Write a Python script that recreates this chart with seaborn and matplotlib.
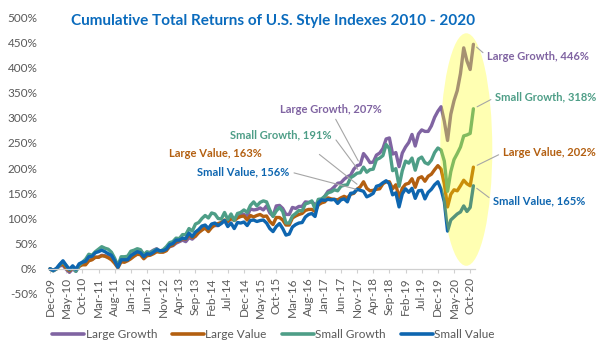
import matplotlib
matplotlib.use("Agg")
import matplotlib.pyplot as plt
import seaborn as sns
import pandas as pd
import numpy as np
from matplotlib.patches import Ellipse

# ---------------- data (cumulative total return, %, monthly Dec-09 .. Nov-20) -------------
large_growth = [0,
    -4, 0, 6, 7, -1, -7, 0, -5, 5, 10, 10, 17,
    19, 23, 23, 27, 26, 24, 23, 15, 8, 19, 19, 20,
    25, 32, 37, 37, 28, 32, 33, 37, 40, 35, 37, 38,
    44, 46, 51, 54, 57, 54, 62, 59, 65, 73, 78, 84,
    79, 88, 86, 86, 92, 96, 93, 102, 99, 104, 110, 108,
    105, 119, 117, 118, 121, 117, 125, 111, 105, 125, 126, 120,
    108, 108, 122, 120, 124, 124, 133, 132, 133, 128, 130, 136,
    144, 154, 157, 163, 170, 171, 178, 183, 186, 198, 205, 207,
    229, 221, 211, 212, 226, 230, 239, 258, 260, 228, 231, 203,
    230, 242, 251, 267, 244, 268, 276, 273, 273, 284, 301, 313,
    322, 293, 255, 307, 334, 354, 388, 439, 413, 396, 446]
large_value = [0,
    -3, 0, 7, 10, 1, -4, 2, -2, 5, 8, 8, 16,
    18, 23, 23, 26, 25, 22, 18, 11, 2, 14, 13, 16,
    20, 25, 29, 28, 20, 26, 27, 30, 34, 33, 33, 36,
    45, 47, 54, 56, 60, 59, 68, 62, 65, 72, 77, 81,
    74, 82, 87, 90, 92, 97, 94, 100, 96, 101, 104, 105,
    97, 106, 103, 106, 108, 104, 105, 94, 88, 102, 102, 97,
    87, 87, 101, 105, 108, 110, 116, 118, 118, 114, 127, 131,
    133, 141, 139, 138, 137, 141, 144, 141, 148, 150, 158, 163,
    173, 160, 155, 156, 158, 159, 169, 173, 173, 159, 167, 141,
    160, 168, 170, 179, 162, 180, 183, 174, 184, 188, 197, 205,
    198, 169, 123, 148, 157, 155, 165, 176, 169, 165, 202]
small_growth = [0,
    -4, 0, 8, 14, 6, -2, 4, -5, 7, 13, 19, 29,
    27, 34, 39, 44, 41, 39, 33, 21, 6, 24, 24, 25,
    35, 37, 40, 38, 28, 34, 31, 36, 39, 35, 38, 44,
    52, 54, 61, 60, 68, 68, 80, 75, 89, 92, 100, 106,
    101, 111, 109, 100, 99, 112, 98, 109, 96, 110, 112, 117,
    112, 126, 133, 125, 132, 135, 133, 117, 104, 115, 122, 114,
    91, 91, 105, 110, 116, 115, 129, 131, 135, 119, 138, 139,
    144, 151, 153, 157, 155, 164, 166, 167, 181, 185, 190, 191,
    202, 192, 197, 198, 217, 220, 225, 247, 239, 195, 199, 164,
    195, 214, 210, 220, 196, 218, 222, 211, 208, 216, 231, 240,
    236, 214, 154, 193, 217, 229, 242, 264, 266, 269, 318]
small_value = [0,
    -3, 1, 9, 16, 7, -1, 6, -1, 10, 13, 15, 24,
    25, 32, 34, 37, 34, 30, 27, 16, 3, 18, 18, 18,
    26, 30, 34, 32, 24, 30, 29, 33, 38, 36, 36, 39,
    48, 50, 57, 57, 61, 60, 71, 64, 73, 78, 85, 87,
    80, 89, 91, 86, 90, 96, 84, 91, 80, 92, 91, 93,
    86, 96, 97, 94, 96, 97, 91, 80, 74, 84, 90, 80,
    67, 69, 83, 88, 91, 92, 103, 108, 110, 104, 131, 137,
    136, 138, 137, 138, 130, 137, 139, 133, 150, 151, 158, 156,
    154, 143, 146, 150, 164, 166, 171, 175, 169, 147, 151, 123,
    149, 159, 152, 160, 140, 155, 156, 139, 152, 158, 167, 173,
    158, 133, 75, 97, 103, 109, 113, 125, 114, 122, 165]

series_names = ["Large Growth", "Large Value", "Small Growth", "Small Value"]
tick_labels = ["Dec-09", "May-10", "Oct-10", "Mar-11", "Aug-11", "Jan-12", "Jun-12",
               "Nov-12", "Apr-13", "Sep-13", "Feb-14", "Jul-14", "Dec-14", "May-15",
               "Oct-15", "Mar-16", "Aug-16", "Jan-17", "Jun-17", "Nov-17", "Apr-18",
               "Sep-18", "Feb-19", "Jul-19", "Dec-19", "May-20", "Oct-20"]
y_ticks = [-50, 0, 50, 100, 150, 200, 250, 300, 350, 400, 450, 500]

# --------------- styling ----------------
colors = {"Large Growth": "#8064A2", "Large Value": "#B35F10",
          "Small Growth": "#4E9E87", "Small Value": "#0E66B0"}
gray_text = "#595959"
title_color = "#0A6BBD"

sns.set_theme(style="white")
plt.rcParams["font.family"] = ["Lato", "DejaVu Sans"]

all_series = [large_growth, large_value, small_growth, small_value]
frames = []
for name, vals in zip(series_names, all_series):
    frames.append(pd.DataFrame({"month": np.arange(len(vals)), "ret": vals, "series": name}))
df = pd.concat(frames, ignore_index=True)

fig = plt.figure(figsize=(6, 3.5), dpi=100)
ax = fig.add_axes([0.0807, 0.16, 0.711, 0.791])

sns.lineplot(data=df, x="month", y="ret", hue="series", hue_order=series_names,
             palette=colors, linewidth=2.4, ax=ax, legend=True)

n = len(large_growth)
ax.set_xlim(-0.5, n - 0.5)
ax.set_ylim(-50, 500)

# yellow highlight ellipse (over the 2020 segment)
ell = Ellipse((128.8, 237), width=16.1, height=462, facecolor=(1, 1, 0, 0.3),
              edgecolor="none", zorder=5, clip_on=False)
ax.add_patch(ell)

# axes styling
for s in ["left", "right", "top"]:
    ax.spines[s].set_visible(False)
ax.spines["bottom"].set_position(("data", 0))
ax.spines["bottom"].set_color("#D0D0D0")
ax.spines["bottom"].set_linewidth(0.9)
ax.set_xticks(np.arange(0, n, 5))
ax.set_xticklabels(tick_labels, rotation=90, fontsize=8.5, color=gray_text)
ax.tick_params(axis="x", direction="out", length=3, width=0.8, color="#D0D0D0", pad=3,
               bottom=True)
ax.set_yticks(y_ticks)
ax.set_yticklabels([f"{v}%" for v in y_ticks], fontsize=8.5, color=gray_text)
ax.tick_params(axis="y", length=0, pad=8)
ax.set_xlabel("")
ax.set_ylabel("")
ax.grid(False)

# legend
handles, labels = ax.get_legend_handles_labels()
ax.legend_.remove()
for h in handles:
    h.set_linewidth(2.6)
fig.legend(handles, labels, loc="center", bbox_to_anchor=(0.456, 0.043), ncol=4,
           frameon=False, fontsize=8.5, handlelength=2.7, handletextpad=0.1,
           columnspacing=1.3, labelcolor=gray_text)

# title
fig.text(0.455, 0.94, "Cumulative Total Returns of U.S. Style Indexes 2010 - 2020",
         ha="center", va="center", fontsize=11, fontweight="bold", color=title_color)

lead = dict(arrowstyle="-", color="#A6A6A6", lw=0.8, shrinkA=1, shrinkB=3)
fs = 8

# end-of-series labels
last = n - 1
end_pos = {"Large Growth": (135.3, 422), "Small Growth": (137.8, 341),
           "Large Value": (140.2, 231), "Small Value": (137.2, 135)}
for name, vals in zip(series_names, all_series):
    tx, ty = end_pos[name]
    ax.annotate(f"{name}, {vals[last]}%", xy=(last, vals[last]), xytext=(tx, ty),
                ha="left", va="center", fontsize=fs, fontweight="bold",
                color=colors[name], annotation_clip=False, zorder=6,
                arrowprops=dict(lead, relpos=(0, 0.5)))

# Dec-17 labels
mid = 96
ax.annotate(f"Large Growth, {large_growth[mid]}%", xy=(mid, large_growth[mid]),
            xytext=(87.0, 317), ha="center", va="center", fontsize=fs,
            fontweight="bold", color=colors["Large Growth"],
            arrowprops=dict(lead, relpos=(0.52, 0)))
ax.annotate(f"Small Growth, {small_growth[mid]}%", xy=(mid, small_growth[mid]),
            xytext=(71.5, 267), ha="center", va="center", fontsize=fs,
            fontweight="bold", color=colors["Small Growth"],
            arrowprops=dict(lead, relpos=(1, 0.5)))
ax.text(51.1, 229, f"Large Value, {large_value[mid]}%", ha="center", va="center",
        fontsize=fs, fontweight="bold", color=colors["Large Value"])
ax.annotate("", xy=(mid, large_value[mid]), xytext=(83.0, 229), arrowprops=dict(lead))
ax.annotate(f"Small Value, {small_value[mid]}%", xy=(mid, small_value[mid]),
            xytext=(59.8, 193), ha="center", va="center", fontsize=fs,
            fontweight="bold", color=colors["Small Value"],
            arrowprops=dict(lead, relpos=(1, 0.5)))

fig.savefig("out.png", dpi=100)
